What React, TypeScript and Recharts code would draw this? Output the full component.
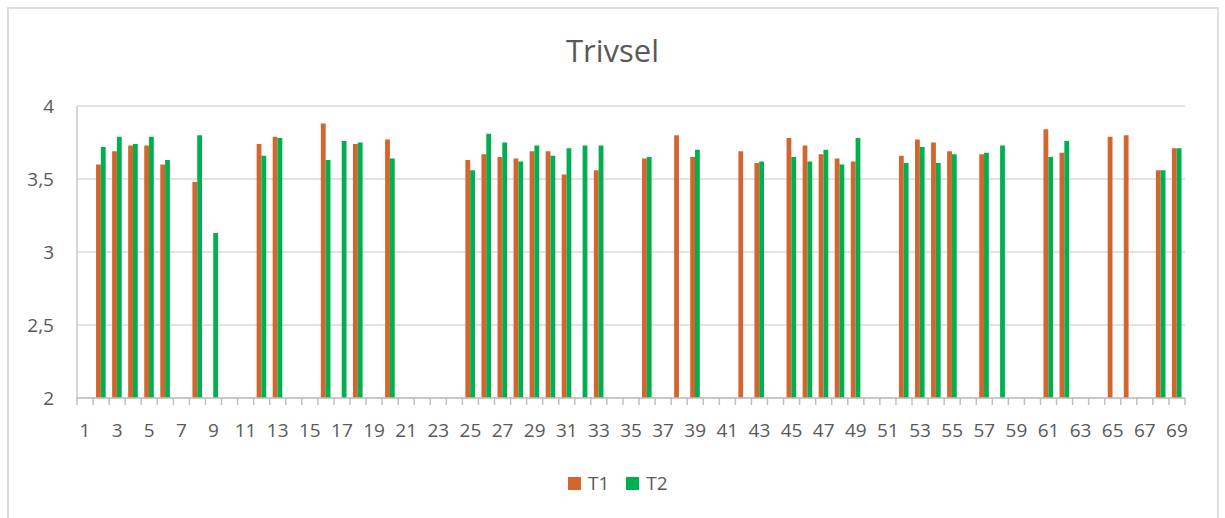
import { BarChart, Bar, XAxis, YAxis, CartesianGrid } from 'recharts';

const CATEGORIES = [
  1, 2, 3, 4, 5, 6, 7, 8, 9, 10, 11, 12, 13, 14, 15, 16, 17, 18, 19, 20,
  21, 22, 23, 24, 25, 26, 27, 28, 29, 30, 31, 32, 33, 34, 35, 36, 37, 38, 39, 40,
  41, 42, 43, 44, 45, 46, 47, 48, 49, 50, 51, 52, 53, 54, 55, 56, 57, 58, 59, 60,
  61, 62, 63, 64, 65, 66, 67, 68, 69
];

// null = no answer that round
const T1 = [
  null, 3.60, 3.69, 3.73, 3.73, 3.60, null, 3.48, null, null,
  null, 3.74, 3.79, null, null, 3.88, null, 3.74, null, 3.77,
  null, null, null, null, 3.63, 3.67, 3.65, 3.64, 3.69, 3.69,
  3.53, null, 3.56, null, null, 3.64, null, 3.80, 3.65, null,
  null, 3.69, 3.61, null, 3.78, 3.73, 3.67, 3.64, 3.62, null,
  null, 3.66, 3.77, 3.75, 3.69, null, 3.67, null, null, null,
  3.84, 3.68, null, null, 3.79, 3.80, null, 3.56, 3.71
];

const T2 = [
  null, 3.72, 3.79, 3.74, 3.79, 3.63, null, 3.80, 3.13, null,
  null, 3.66, 3.78, null, null, 3.63, 3.76, 3.75, null, 3.64,
  null, null, null, null, 3.56, 3.81, 3.75, 3.62, 3.73, 3.66,
  3.71, 3.73, 3.73, null, null, 3.65, null, null, 3.70, null,
  null, null, 3.62, null, 3.65, 3.62, 3.70, 3.60, 3.78, null,
  null, 3.61, 3.72, 3.61, 3.67, null, 3.68, 3.73, null, null,
  3.65, 3.76, null, null, null, null, null, 3.56, 3.71
];

const Y_TICKS = [2, 2.5, 3, 3.5, 4];

const ORANGE = '#D4652C';
const GREEN = '#00B050';
const TEXT = '#595959';
const FONT = '"Open Sans", "Liberation Sans", sans-serif';

const W = 1225;
const H = 518;
const PLOT_LEFT = 77;
const PLOT_RIGHT = 1185;
const BAND = (PLOT_RIGHT - PLOT_LEFT) / CATEGORIES.length;

const data = CATEGORIES.map((c, i) => ({ cat: c, T1: T1[i], T2: T2[i] }));

function CatTick(props: any) {
  const { x, y, payload, index } = props;
  const left = x - BAND / 2;
  const isLast = index === CATEGORIES.length - 1;
  return (
    <g>
      <line x1={left} x2={left} y1={y} y2={y + 7} stroke="#bfbfbf" strokeWidth={1.5} />
      {isLast && (
        <line x1={x + BAND / 2} x2={x + BAND / 2} y1={y} y2={y + 7} stroke="#bfbfbf" strokeWidth={1.5} />
      )}
      {index % 2 === 0 && (
        <text x={x} y={y + 32} textAnchor="middle" dominantBaseline="central"
          fill={TEXT} fontSize={19} fontFamily={FONT}>
          {payload.value}
        </text>
      )}
    </g>
  );
}

export default function App() {
  return (
    <div style={{ position: 'absolute', left: 0, top: 0, width: W, height: H, overflow: 'hidden', background: '#fff', fontFamily: FONT }}>
      <div style={{ position: 'absolute', left: 7, top: 7, width: 1208, height: 530, border: '2px solid #dedede' }} />

      <div style={{ position: 'absolute', left: 0, top: 30, width: W, textAlign: 'center', fontSize: 31, color: TEXT, lineHeight: '40px' }}>
        Trivsel
      </div>

      <div style={{ position: 'absolute', left: 0, top: 0 }}>
        <BarChart
          width={W}
          height={H}
          data={data}
          margin={{ top: 106, right: W - PLOT_RIGHT, left: 0, bottom: 80 }}
          barGap={0}
        >
          <CartesianGrid horizontal vertical={false} stroke="#d9d9d9" strokeWidth={1.5} />
          <XAxis
            dataKey="cat"
            type="category"
            interval={0}
            height={40}
            tickSize={0}
            tickMargin={0}
            tickLine={false}
            axisLine={{ stroke: '#bfbfbf', strokeWidth: 1.5 }}
            tick={<CatTick />}
          />
          <YAxis
            domain={[2, 4]}
            ticks={Y_TICKS}
            width={PLOT_LEFT}
            tickLine={false}
            tickSize={0}
            tickMargin={23}
            axisLine={{ stroke: '#c8c8c8', strokeWidth: 1.5 }}
            tick={{ fill: TEXT, fontSize: 19, fontFamily: FONT }}
            tickFormatter={(v) => String(v).replace('.', ',')}
          />
          <Bar dataKey="T1" fill={ORANGE} barSize={4.8} isAnimationActive={false} />
          <Bar dataKey="T2" fill={GREEN} barSize={4.8} isAnimationActive={false} />
        </BarChart>
      </div>

      <div style={{ position: 'absolute', left: 568, top: 471, display: 'flex', alignItems: 'center', fontSize: 19, color: TEXT, lineHeight: '24px' }}>
        <span style={{ display: 'inline-block', width: 13, height: 13, background: ORANGE, marginRight: 7 }} />
        <span style={{ marginRight: 17 }}>T1</span>
        <span style={{ display: 'inline-block', width: 13, height: 13, background: GREEN, marginRight: 7 }} />
        <span>T2</span>
      </div>
    </div>
  );
}
